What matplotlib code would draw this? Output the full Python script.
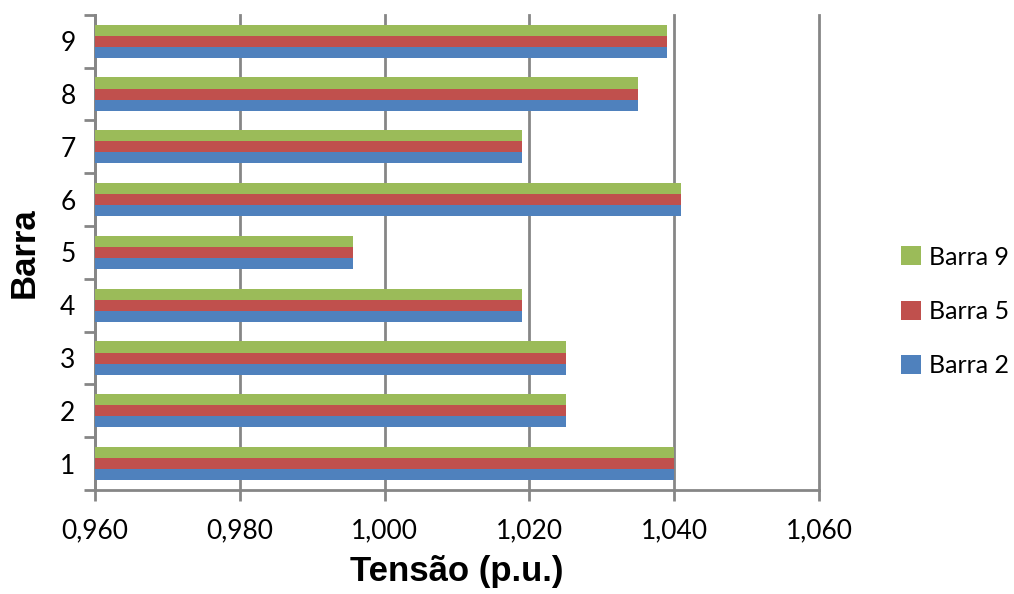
import matplotlib.pyplot as plt
import numpy as np
from matplotlib.ticker import FuncFormatter, FixedLocator

# Data
barras = ['1', '2', '3', '4', '5', '6', '7', '8', '9']
barra2 = [1.040, 1.025, 1.025, 1.019, 0.9957, 1.041, 1.019, 1.035, 1.039]
barra5 = [1.040, 1.025, 1.025, 1.019, 0.9957, 1.041, 1.019, 1.035, 1.039]
barra9 = [1.040, 1.025, 1.025, 1.019, 0.9957, 1.041, 1.019, 1.035, 1.039]

x0 = 0.960
grid_color = '#868686'

fig = plt.figure(figsize=(10.14, 5.94), dpi=100)
ax = fig.add_axes([0.0937, 0.175, 0.714, 0.80])

y = np.arange(len(barras))
h = 0.21
ax.barh(y - h, np.array(barra2) - x0, h, left=x0, color='#4F81BD', label='Barra 2', zorder=3)
ax.barh(y, np.array(barra5) - x0, h, left=x0, color='#C0504D', label='Barra 5', zorder=3)
ax.barh(y + h, np.array(barra9) - x0, h, left=x0, color='#9BBB59', label='Barra 9', zorder=3)

ax.set_xlim(0.960, 1.060)
ax.set_ylim(-0.5, len(barras) - 0.5)
ax.set_xticks(np.arange(0.960, 1.0601, 0.020))
ax.xaxis.set_major_formatter(FuncFormatter(lambda v, p: f'{v:.3f}'.replace('.', ',')))

# category boundaries get tick marks, centres get the labels
ax.yaxis.set_major_locator(FixedLocator(np.arange(-0.5, len(barras), 1.0)))
ax.yaxis.set_minor_locator(FixedLocator(y))
ax.set_yticklabels([], minor=False)
ax.set_yticklabels(barras, minor=True)
ax.tick_params(axis='y', which='minor', length=0, pad=14)
ax.tick_params(axis='y', which='major', length=8, width=2, color=grid_color)
ax.tick_params(axis='x', length=8, width=2, color=grid_color, pad=12)

for lbl in ax.get_xticklabels() + ax.get_yticklabels(minor=True):
    lbl.set_fontfamily('Lato')
    lbl.set_fontsize(19)

ax.grid(axis='x', color=grid_color, linewidth=2, zorder=0)
for gl in ax.get_xgridlines():
    gl.set_clip_on(False)
for s in ['top', 'right']:
    ax.spines[s].set_visible(False)
for s in ['left', 'bottom']:
    ax.spines[s].set_color(grid_color)
    ax.spines[s].set_linewidth(2)

ax.set_xlabel('Tensão (p.u.)', fontsize=25, fontweight='bold', family='Liberation Sans', labelpad=9)
ax.set_ylabel('Barra', fontsize=25, fontweight='bold', family='Liberation Sans', labelpad=14)

handles, labels = ax.get_legend_handles_labels()
fig.legend(handles[::-1], labels[::-1], loc='center left', bbox_to_anchor=(0.889, 0.476),
           frameon=False, prop={'family': 'Lato', 'size': 18},
           handlelength=0.8, handleheight=0.8, labelspacing=1.25, handletextpad=0.3,
           borderaxespad=0, borderpad=0)

fig.savefig('out.png', dpi=100)
